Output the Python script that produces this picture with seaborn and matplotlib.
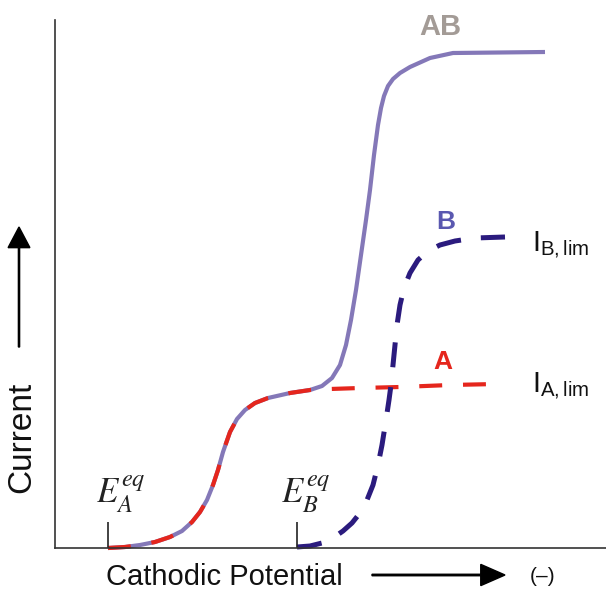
import numpy as np
import pandas as pd
import seaborn as sns
import matplotlib.pyplot as plt

# ---- data (arbitrary units) ----
# wave A, also the foot of the combined AB wave
potential_a = [53, 70, 85, 100, 115, 127, 137, 145, 152, 158, 163, 168, 175, 182, 190,
               200, 213, 235, 255, 275, 305, 345, 395, 442]
current_a = [0, 1, 3, 6, 11, 17, 26, 36, 48, 63, 78, 96, 116, 129, 138,
             145, 150, 155, 158, 159, 160, 161, 163, 164]

# combined wave AB (rises from the A plateau)
potential_ab = potential_a[:19] + [267, 277, 285, 291, 296, 301, 306, 311, 315, 319, 323,
                                   326, 329, 333, 338, 345, 355, 375, 398, 490]
current_ab = current_a[:19] + [162, 170, 183, 203, 228, 258, 293, 328, 358, 393, 423,
                               440, 452, 462, 469, 475, 481, 490, 495, 496]

# wave B
potential_b = [242, 255, 267, 278, 288, 297, 305, 312, 318, 323, 327, 331, 334, 336, 338,
               340, 342, 345, 349, 355, 363, 373, 385, 400, 420, 450]
current_b = [1, 2, 5, 10, 17, 25, 35, 48, 63, 83, 103, 128, 148, 163, 183,
             203, 223, 243, 260, 275, 288, 297, 303, 307, 310, 311]

eq_potentials = [53, 242]
eq_labels = [r"$E_{A}^{eq}$", r"$E_{B}^{eq}$"]

sns.set_style("white")
plt.rcParams['font.family'] = ['Liberation Sans', 'DejaVu Sans']
plt.rcParams['mathtext.fontset'] = 'stix'

W, H = 606, 590
fig = plt.figure(figsize=(W / 100, H / 100), dpi=100)
ax = fig.add_axes([55 / W, 42 / H, 551 / W, 528 / H])


def fx(px):
    return px / W


def fy(py):
    return 1 - py / H


c_ab = '#8478b8'
c_a = '#e5261d'
c_b = '#2b1b7e'

df_ab = pd.DataFrame({"E": potential_ab, "I": current_ab})
df_a = pd.DataFrame({"E": potential_a, "I": current_a})
df_b = pd.DataFrame({"E": potential_b, "I": current_b})

sns.lineplot(data=df_ab, x="E", y="I", ax=ax, color=c_ab, linewidth=3.0,
             sort=False, estimator=None, solid_capstyle='butt', clip_on=False)
sns.lineplot(data=df_a, x="E", y="I", ax=ax, color=c_a, linewidth=3.0,
             linestyle=(0, (5.5, 5)), sort=False, estimator=None, clip_on=False)
sns.lineplot(data=df_b, x="E", y="I", ax=ax, color=c_b, linewidth=3.6,
             linestyle=(0, (5, 4)), sort=False, estimator=None, clip_on=False)

# equilibrium potential ticks
ax.vlines(eq_potentials, 0, 26, color='#222222', linewidth=1.2)

ax.set_xlim(0, 551)
ax.set_ylim(0, 528)
ax.set_xticks([])
ax.set_yticks([])
ax.set_xlabel("")
ax.set_ylabel("")
sns.despine(ax=ax)
for side in ['left', 'bottom']:
    ax.spines[side].set_color('#333333')
    ax.spines[side].set_linewidth(1.2)

# equilibrium labels
fig.text(fx(96), fy(503), eq_labels[0], fontsize=25, ha='left', va='baseline', color='#222222')
fig.text(fx(281), fy(503), eq_labels[1], fontsize=25, ha='left', va='baseline', color='#222222')

# curve labels
fig.text(fx(440), fy(27), "AB", fontsize=21, fontweight='bold', color='#a39b96',
         ha='center', va='center')
fig.text(fx(446), fy(222), "B", fontsize=19, fontweight='bold', color='#5a58b0',
         ha='center', va='center')
fig.text(fx(443), fy(362), "A", fontsize=19, fontweight='bold', color='#e5261d',
         ha='center', va='center')

fig.text(fx(532), fy(252), r"$\mathregular{I_{B,lim}}$", fontsize=21, ha='left',
         va='baseline', color='#111111')
fig.text(fx(532), fy(393), r"$\mathregular{I_{A,lim}}$", fontsize=21, ha='left',
         va='baseline', color='#111111')

# axis labels with arrows
fig.text(fx(22), fy(437), "Current", fontsize=24, rotation=90, ha='center', va='center',
         color='#111111')
fig.text(fx(224), fy(577), "Cathodic Potential", fontsize=21, ha='center', va='center',
         color='#111111')
fig.text(fx(543), fy(577), "(–)", fontsize=15, ha='center', va='center', color='#111111')

fig.patches.append(plt.matplotlib.patches.FancyArrow(
    fx(19), fy(347), 0, fy(227) - fy(347), width=0.002, head_width=0.036,
    head_length=0.035, length_includes_head=True, color='black',
    transform=fig.transFigure, figure=fig))
fig.patches.append(plt.matplotlib.patches.FancyArrow(
    fx(372), fy(575), fx(505) - fx(372), 0, width=0.0025, head_width=0.036,
    head_length=0.04, length_includes_head=True, color='black',
    transform=fig.transFigure, figure=fig))

fig.savefig("out.png", dpi=100)
